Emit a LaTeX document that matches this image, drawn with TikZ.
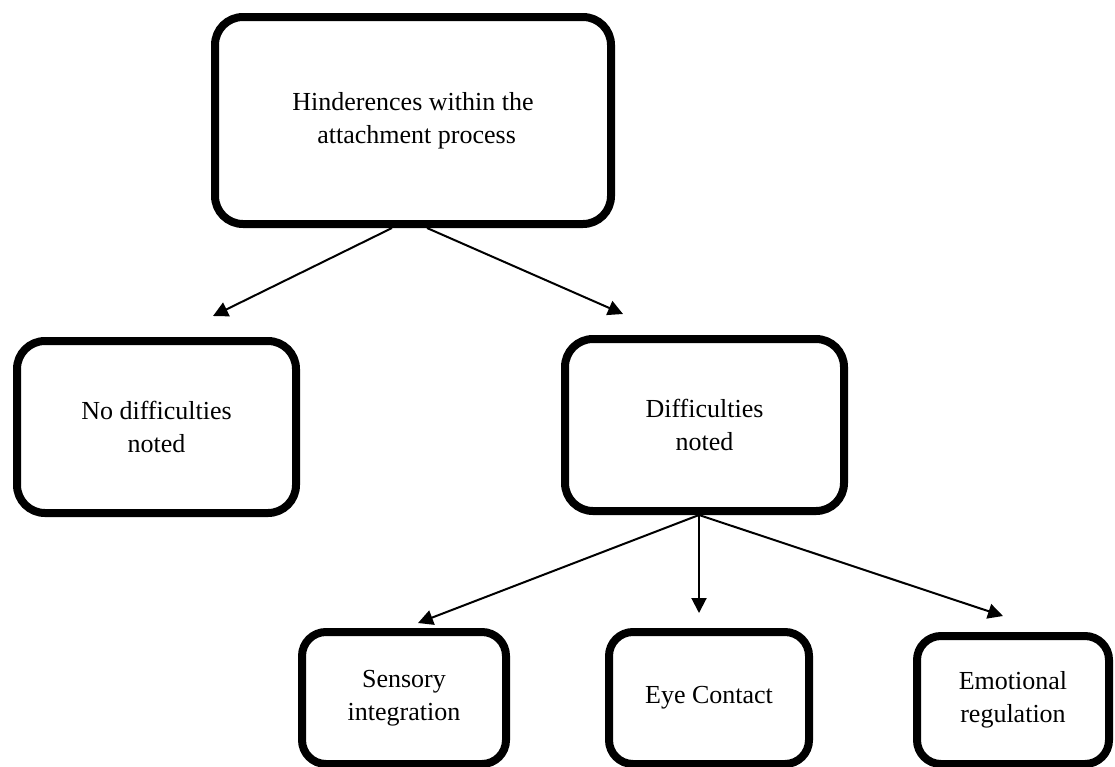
\documentclass[tikz,border=0pt]{standalone}
\usepackage{fontspec}
\setmainfont{Liberation Serif}
\usetikzlibrary{arrows.meta,calc}
\begin{document}
\begin{tikzpicture}[x=1pt,y=1pt,
  box/.style={draw=black, line width=8pt, rounded corners=28pt, align=center,
    font=\fontsize{26}{33}\selectfont, inner sep=0pt, fill=white},
  smallbox/.style={box, rounded corners=24pt},
  conn/.style={line width=2pt, -{Triangle[length=15pt,width=15pt]}}]
\useasboundingbox (0,0) rectangle (1115,-766);
\node[box, minimum width=396pt, minimum height=207pt] (top) at (413,-120.5)
  {Hinderences within the\\\phantom{i}attachment process};
\node[box, minimum width=279pt, minimum height=172pt] (nodiff) at (156.5,-427)
  {No difficulties\\noted};
\node[box, minimum width=279pt, minimum height=172pt] (diff) at (704.5,-425)
  {Difficulties\\noted};
\node[smallbox, minimum width=204pt, minimum height=132pt] (sens) at (404,-698)
  {Sensory\\integration};
\node[smallbox, minimum width=200pt, minimum height=132pt] (eye) at (709,-698)
  {Eye Contact};
\node[smallbox, minimum width=192pt, minimum height=128pt] (emo) at (1013,-700)
  {Emotional\\regulation};
\coordinate (t1) at (213,-316);
\coordinate (t2) at (623,-314);
\coordinate (t3) at (418,-623);
\coordinate (t4) at (699,-613);
\coordinate (t5) at (1003,-616);
\draw[conn] ($(top.south)+(-21,0)$) -- (t1);
\draw[conn] ($(top.south)+(14,0)$) -- (t2);
\draw[conn] ($(diff.south)+(-5.5,0)$) -- (t3);
\draw[conn] ($(diff.south)+(-5.5,0)$) -- (t4);
\draw[conn] ($(diff.south)+(-5.5,0)$) -- (t5);
\end{tikzpicture}
\end{document}
